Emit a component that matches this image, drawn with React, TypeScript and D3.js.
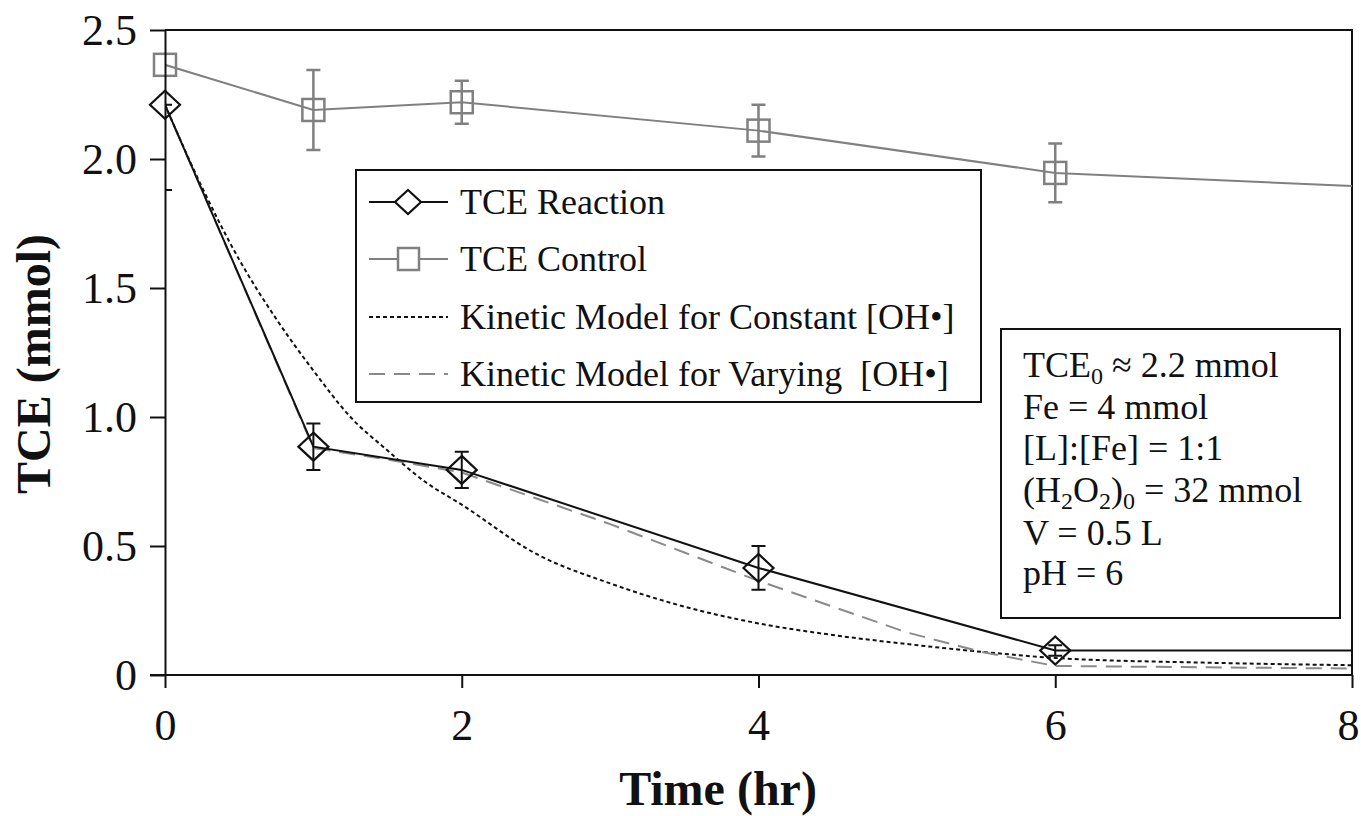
import React, { useEffect, useRef } from "react";
import * as d3 from "d3";

// measured data (time in hr, TCE in mmol)
const reactionTime = [0, 1, 2, 4, 6, 8];
const reactionTCE = [2.21, 0.885, 0.795, 0.415, 0.095, 0.095];
const reactionErrLo = [0.33, 0.09, 0.07, 0.085, 0.02, 0];
const reactionErrHi = [0, 0.09, 0.07, 0.085, 0.02, 0];

const controlTime = [0, 1, 2, 4, 6, 8];
const controlTCE = [2.365, 2.19, 2.22, 2.11, 1.946, 1.895];
const controlErr = [0, 0.155, 0.083, 0.1, 0.114, 0];

// kinetic model curves
const constTime = [0, 0.25, 0.5, 0.75, 1, 1.25, 1.5, 1.75, 2, 2.5, 3, 3.5, 4, 4.5, 5, 5.5, 6, 7, 8];
const constTCE = [2.21, 1.89, 1.61, 1.38, 1.18, 1.0, 0.87, 0.75, 0.66, 0.47, 0.355, 0.265, 0.2, 0.155, 0.12, 0.09, 0.066, 0.048, 0.038];

const varyTime = [0, 1, 1.5, 2, 2.5, 3, 3.5, 4, 4.5, 5, 5.5, 6, 7, 8];
const varyTCE = [2.21, 0.88, 0.835, 0.785, 0.685, 0.585, 0.475, 0.365, 0.265, 0.165, 0.09, 0.035, 0.03, 0.025];

const xTicks = [0, 2, 4, 6, 8];
const yTicks = [0, 0.5, 1.0, 1.5, 2.0, 2.5];
const yTickLabels = ["0", "0.5", "1.0", "1.5", "2.0", "2.5"];

const legendItems = [
  "TCE Reaction",
  "TCE Control",
  "Kinetic Model for Constant [OH\u2022]",
  "Kinetic Model for Varying  [OH\u2022]",
];

const W = 1361;
const H = 816;
const FONT = "'Liberation Serif', 'Times New Roman', serif";

const App: React.FC = () => {
  const svgRef = useRef<SVGSVGElement>(null);

  useEffect(() => {
    if (!svgRef.current) return;
    const svg = d3.select(svgRef.current);
    svg.selectAll("*").remove();

    const left = 165, right = 1352, top = 30, bottom = 675;
    const x = d3.scaleLinear().domain([0, 8]).range([left, right]);
    const y = d3.scaleLinear().domain([0, 2.5]).range([bottom, top]);

    svg.append("defs")
      .append("clipPath")
      .attr("id", "plot-clip")
      .append("rect")
      .attr("x", left)
      .attr("y", top)
      .attr("width", right - left)
      .attr("height", bottom - top);

    // frame (top + right)
    svg.append("path")
      .attr("d", `M${left},${top}H${right}V${bottom}`)
      .attr("fill", "none")
      .attr("stroke", "#111")
      .attr("stroke-width", 2);

    const plot = svg.append("g").attr("clip-path", "url(#plot-clip)");

    const line = d3.line<[number, number]>().x((d) => x(d[0])).y((d) => y(d[1]));
    const smooth = d3.line<[number, number]>()
      .x((d) => x(d[0]))
      .y((d) => y(d[1]))
      .curve(d3.curveMonotoneX);

    // control line
    plot.append("path")
      .attr("d", line(controlTime.map((t, i) => [t, controlTCE[i]]) as [number, number][]))
      .attr("fill", "none")
      .attr("stroke", "#808080")
      .attr("stroke-width", 2);

    // model: constant [OH]
    plot.append("path")
      .attr("d", smooth(constTime.map((t, i) => [t, constTCE[i]]) as [number, number][]))
      .attr("fill", "none")
      .attr("stroke", "#111")
      .attr("stroke-width", 2)
      .attr("stroke-dasharray", "4,3");

    // model: varying [OH]
    plot.append("path")
      .attr("d", line(varyTime.map((t, i) => [t, varyTCE[i]]) as [number, number][]))
      .attr("fill", "none")
      .attr("stroke", "#8a8a8a")
      .attr("stroke-width", 2)
      .attr("stroke-dasharray", "16,9");

    // reaction line
    plot.append("path")
      .attr("d", line(reactionTime.map((t, i) => [t, reactionTCE[i]]) as [number, number][]))
      .attr("fill", "none")
      .attr("stroke", "#111")
      .attr("stroke-width", 2);

    const cap = 7;
    // control error bars + squares
    controlTime.forEach((t, i) => {
      if (t >= 8) return;
      const cx = x(t), cy = y(controlTCE[i]);
      if (controlErr[i] > 0) {
        const y1 = y(controlTCE[i] + controlErr[i]);
        const y2 = y(controlTCE[i] - controlErr[i]);
        plot.append("path")
          .attr("d", `M${cx},${y1}V${y2}M${cx - cap},${y1}H${cx + cap}M${cx - cap},${y2}H${cx + cap}`)
          .attr("stroke", "#808080")
          .attr("stroke-width", 2.5)
          .attr("fill", "none");
      }
      svg.append("rect")
        .attr("x", cx - 11)
        .attr("y", cy - 11)
        .attr("width", 22)
        .attr("height", 22)
        .attr("fill", "none")
        .attr("stroke", "#808080")
        .attr("stroke-width", 2.5);
    });

    // reaction error bars + diamonds
    reactionTime.forEach((t, i) => {
      if (t >= 8) return;
      const cx = x(t), cy = y(reactionTCE[i]);
      const y1 = y(reactionTCE[i] + reactionErrHi[i]);
      const y2 = y(reactionTCE[i] - reactionErrLo[i]);
      plot.append("path")
        .attr("d", `M${cx},${y1}V${y2}M${cx - cap},${y1}H${cx + cap}M${cx - cap},${y2}H${cx + cap}`)
        .attr("stroke", "#111")
        .attr("stroke-width", 2)
        .attr("fill", "none");
      svg.append("path")
        .attr("d", `M${cx},${cy - 14}L${cx + 15},${cy}L${cx},${cy + 14}L${cx - 15},${cy}Z`)
        .attr("fill", "none")
        .attr("stroke", "#111")
        .attr("stroke-width", 2.2);
    });

    // axes
    const xAxis = svg.append("g").attr("transform", `translate(0,${bottom})`)
      .call(d3.axisBottom(x).tickValues(xTicks).tickSize(13).tickSizeOuter(0).tickFormat(d3.format("d")));
    const yAxis = svg.append("g").attr("transform", `translate(${left},0)`)
      .call(d3.axisLeft(y).tickValues(yTicks).tickSize(15).tickSizeOuter(0)
        .tickFormat((d, i) => yTickLabels[i]));
    [xAxis, yAxis].forEach((a) => {
      a.select(".domain").attr("stroke", "#111").attr("stroke-width", 2);
      a.selectAll(".tick line").attr("stroke", "#111").attr("stroke-width", 2);
      a.selectAll(".tick text")
        .attr("font-family", FONT)
        .attr("font-size", 44)
        .attr("fill", "#111");
    });
    xAxis.select(".domain").attr("d", `M${left - 15},0H${right}`);
    xAxis.selectAll(".tick text").attr("y", 0).attr("dy", null)
      .attr("transform", (d) => `translate(${+d === 8 ? -4 : 0},65)`);
    yAxis.selectAll(".tick text").attr("x", -28).attr("dy", "0.33em");

    // axis titles
    svg.append("text")
      .attr("x", 718)
      .attr("y", 805)
      .attr("text-anchor", "middle")
      .attr("font-family", FONT)
      .attr("font-weight", "bold")
      .attr("font-size", 48)
      .attr("fill", "#111")
      .text("Time (hr)");
    svg.append("text")
      .attr("transform", "translate(50,364) rotate(-90)")
      .attr("text-anchor", "middle")
      .attr("font-family", FONT)
      .attr("font-weight", "bold")
      .attr("font-size", 48)
      .attr("fill", "#111")
      .text("TCE (mmol)");

    // legend
    const lg = svg.append("g");
    lg.append("rect")
      .attr("x", 356).attr("y", 170).attr("width", 625).attr("height", 232)
      .attr("fill", "white").attr("stroke", "#111").attr("stroke-width", 2);
    const rowY = [202, 259, 317, 374];
    const styles = [
      { stroke: "#111", dash: null, w: 2 },
      { stroke: "#808080", dash: null, w: 2 },
      { stroke: "#111", dash: "4,3", w: 2 },
      { stroke: "#8a8a8a", dash: "16,9", w: 2 },
    ];
    legendItems.forEach((label, i) => {
      const ry = rowY[i];
      const s = styles[i];
      lg.append("line")
        .attr("x1", 369).attr("x2", 448).attr("y1", ry).attr("y2", ry)
        .attr("stroke", s.stroke).attr("stroke-width", s.w)
        .attr("stroke-dasharray", s.dash);
      if (i === 0) {
        lg.append("path")
          .attr("d", `M408,${ry - 12}L421,${ry}L408,${ry + 12}L395,${ry}Z`)
          .attr("fill", "white").attr("stroke", "#111").attr("stroke-width", 2.2);
      } else if (i === 1) {
        lg.append("rect")
          .attr("x", 398).attr("y", ry - 11).attr("width", 21).attr("height", 22)
          .attr("fill", "white").attr("stroke", "#808080").attr("stroke-width", 2.5);
      }
      lg.append("text")
        .attr("x", 460).attr("y", ry + 12)
        .attr("font-family", FONT).attr("font-size", 36).attr("fill", "#111")
        .attr("xml:space", "preserve")
        .style("white-space", "pre")
        .text(label);
    });

    // conditions box
    const cb = svg.append("g");
    cb.append("rect")
      .attr("x", 1001).attr("y", 329).attr("width", 339).attr("height", 289)
      .attr("fill", "white").attr("stroke", "#111").attr("stroke-width", 2);
    const tx = 1023;
    const addLine = (yb: number, parts: [string, boolean][]) => {
      const t = cb.append("text")
        .attr("x", tx).attr("y", yb)
        .attr("font-family", FONT).attr("font-size", 36).attr("fill", "#111");
      parts.forEach(([s, sub]) => {
        t.append("tspan")
          .attr("font-size", sub ? 24 : 36)
          .attr("baseline-shift", sub ? "-0.3em" : null)
          .text(s);
      });
    };
    addLine(377, [["TCE", false], ["0", true], [" \u2248 2.2 mmol", false]]);
    addLine(419, [["Fe = 4 mmol", false]]);
    addLine(460, [["[L]:[Fe] = 1:1", false]]);
    addLine(502, [["(H", false], ["2", true], ["O", false], ["2", true], [")", false], ["0", true], [" = 32 mmol", false]]);
    addLine(545, [["V = 0.5 L", false]]);
    addLine(585, [["pH = 6", false]]);
  }, []);

  return (
    <svg
      ref={svgRef}
      width={W}
      height={H}
      viewBox={`0 0 ${W} ${H}`}
      style={{ position: "absolute", left: 0, top: 0, background: "white" }}
    />
  );
};

export default App;
